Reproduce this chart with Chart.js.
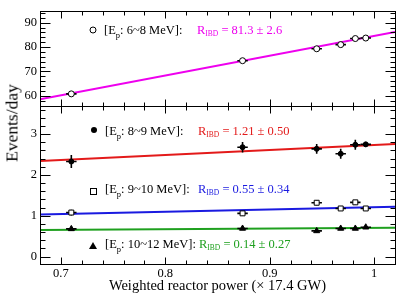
<!DOCTYPE html>
<html>
<head>
<meta charset="utf-8">
<script src="https://cdn.jsdelivr.net/npm/chart.js@4.4.1/dist/chart.umd.min.js"></script>
<style>
body { margin: 0; background: #fff; }
#wrap { position: relative; width: 415px; height: 300px; }
.note { position: absolute; font-family: "Liberation Serif", "Times New Roman", serif; white-space: nowrap; line-height: 1; color: #000; }
.lbl { font-size: 12.5px; }
.lbl sub { font-size: 8.5px; vertical-align: -4px; }
.rate { font-size: 12.5px; }
.rate sub { font-size: 7.5px; vertical-align: -2px; }
#ytitle { position: absolute; left: 12px; top: 123px; transform: translate(-50%, -50%) rotate(-90deg); font-family: "Liberation Serif", serif; font-size: 17.5px; white-space: nowrap; }
</style>
</head>
<body>
<div id="wrap">
  <canvas id="rateChart" width="415" height="300"></canvas>
  <div id="ytitle">Events/day</div>
  <div class="note lbl" style="left:104px;top:24px">[E<sub>p</sub>: 6~8 MeV]:</div>
  <div class="note rate" style="left:197px;top:24px;color:#ee00ee">R<sub>IBD</sub> = 81.3 ± 2.6</div>
  <div class="note lbl" style="left:105px;top:125px">[E<sub>p</sub>: 8~9 MeV]:</div>
  <div class="note rate" style="left:198px;top:125px;color:#e31a1a">R<sub>IBD</sub> = 1.21 ± 0.50</div>
  <div class="note lbl" style="left:105px;top:183px">[E<sub>p</sub>: 9~10 MeV]:</div>
  <div class="note rate" style="left:198px;top:183px;color:#1a1ae0">R<sub>IBD</sub> = 0.55 ± 0.34</div>
  <div class="note lbl" style="left:105px;top:238px">[E<sub>p</sub>: 10~12 MeV]:</div>
  <div class="note rate" style="left:199px;top:238px;color:#1fa01f">R<sub>IBD</sub> = 0.14 ± 0.27</div>
</div>
<script>
// weighted reactor power (x 17.4 GW) and its error
const power = [0.710, 0.874, 0.945, 0.968, 0.982, 0.992];
const powerErr = [0.005, 0.005, 0.005, 0.005, 0.005, 0.005];

// measured rates, events/day, per prompt energy window
const rate6to8 = [60.8, 74.4, 79.3, 81.0, 83.5, 83.7];
const err6to8 = [0.5, 0.5, 0.5, 0.5, 0.5, 0.5];
const rate8to9 = [2.33, 2.68, 2.64, 2.52, 2.74, 2.75];
const err8to9 = [0.16, 0.13, 0.12, 0.12, 0.12, 0.06];
const rate9to10 = [1.08, 1.06, 1.32, 1.18, 1.33, 1.18];
const err9to10 = [0.07, 0.06, 0.06, 0.06, 0.06, 0.04];
const rate10to12 = [0.68, 0.69, 0.63, 0.69, 0.69, 0.72];
const err10to12 = [0.05, 0.04, 0.04, 0.04, 0.04, 0.03];

// fitted lines, read at the ends of the power axis
const fitPower = [0.68, 1.02];
const fit6to8 = [58.6, 86.2];
const fit8to9 = [2.34, 2.76];
const fit9to10 = [1.03, 1.22];
const fit10to12 = [0.65, 0.71];

const serif = 'Liberation Serif';
const toPoints = (xs, ys) => xs.map((x, i) => ({ x, y: ys[i] }));

function pointSet(values, errs, axis, style, fill, radius) {
    return {
        data: toPoints(power, values),
        yAxisID: axis,
        showLine: false,
        pointStyle: style,
        pointRadius: radius,
        pointBackgroundColor: fill,
        pointBorderColor: '#000',
        pointBorderWidth: 1,
        errX: powerErr,
        errY: errs
    };
}

function fitSet(values, axis, color) {
    return {
        data: toPoints(fitPower, values),
        yAxisID: axis,
        showLine: true,
        borderColor: color,
        borderWidth: 2,
        pointRadius: 0
    };
}

// error bars drawn right before each marker set
const errorBars = {
    id: 'errorBars',
    beforeDatasetDraw(chart, args) {
        const ds = chart.data.datasets[args.index];
        if (!ds.errY) return;
        const ctx = chart.ctx;
        const xs = chart.scales.x, ys = chart.scales[ds.yAxisID];
        ctx.save();
        ctx.strokeStyle = '#000';
        ctx.lineWidth = 1.6;
        ds.data.forEach((p, i) => {
            const px = xs.getPixelForValue(p.x), py = ys.getPixelForValue(p.y);
            ctx.beginPath();
            ctx.moveTo(xs.getPixelForValue(p.x - ds.errX[i]), py);
            ctx.lineTo(xs.getPixelForValue(p.x + ds.errX[i]), py);
            ctx.moveTo(px, ys.getPixelForValue(p.y - ds.errY[i]));
            ctx.lineTo(px, ys.getPixelForValue(p.y + ds.errY[i]));
            ctx.stroke();
        });
        ctx.restore();
    }
};

// ROOT style frame with inward ticks on both panels
const frameTicks = {
    id: 'frameTicks',
    afterDraw(chart) {
        const ctx = chart.ctx, xs = chart.scales.x, area = chart.chartArea;
        const panels = [
            { id: 'yTop', minor: 2, every: 5 },
            { id: 'yLow', minor: 0.2, every: 5 }
        ];
        ctx.save();
        ctx.strokeStyle = '#000';
        ctx.lineWidth = 1;
        panels.forEach(pn => {
            const ys = chart.scales[pn.id];
            const top = Math.round(ys.top) + 0.5, bottom = Math.round(ys.bottom) + 0.5;
            const left = Math.round(area.left) + 0.5, right = Math.round(area.right) + 0.5;
            ctx.strokeRect(left, top, right - left, bottom - top);
            ctx.beginPath();
            for (let k = 34; k <= 51; k++) {
                const v = k * 0.02;
                const len = k % 5 === 0 ? 7 : 4;
                const px = Math.round(xs.getPixelForValue(v)) + 0.5;
                ctx.moveTo(px, top); ctx.lineTo(px, top + len);
                ctx.moveTo(px, bottom); ctx.lineTo(px, bottom - len);
            }
            const k0 = Math.ceil(ys.min / pn.minor - 1e-6), k1 = Math.floor(ys.max / pn.minor + 1e-6);
            for (let k = k0; k <= k1; k++) {
                const len = k % pn.every === 0 ? 10 : 5;
                const py = Math.round(ys.getPixelForValue(k * pn.minor)) + 0.5;
                ctx.moveTo(left, py); ctx.lineTo(left + len, py);
                ctx.moveTo(right, py); ctx.lineTo(right - len, py);
            }
            ctx.stroke();
        });
        ctx.restore();
    }
};

// legend markers beside the window labels
const legendMarks = {
    id: 'legendMarks',
    afterDraw(chart) {
        const ctx = chart.ctx;
        ctx.save();
        ctx.strokeStyle = '#000';
        ctx.fillStyle = '#000';
        ctx.lineWidth = 1;
        ctx.beginPath(); ctx.arc(93, 30, 3, 0, Math.PI * 2); ctx.stroke();
        ctx.beginPath(); ctx.arc(94, 130, 3, 0, Math.PI * 2); ctx.fill();
        ctx.strokeRect(90.5, 188.5, 6, 6);
        ctx.beginPath(); ctx.moveTo(93, 242); ctx.lineTo(97, 249); ctx.lineTo(89, 249); ctx.closePath(); ctx.fill();
        ctx.restore();
    }
};

const yAxis = (min, max, step, weight) => ({
    type: 'linear',
    position: 'left',
    stack: 'rate',
    stackWeight: weight,
    min, max,
    grid: { display: false, drawTicks: false },
    border: { display: false },
    ticks: {
        stepSize: step,
        includeBounds: false,
        padding: 3,
        color: '#000',
        font: { family: serif, size: 12.5 }
    },
    afterFit: s => { s.width = 40; }
});

new Chart(document.getElementById('rateChart'), {
    type: 'scatter',
    data: {
        datasets: [
            pointSet(rate6to8, err6to8, 'yTop', 'circle', '#fff', 3),
            pointSet(rate8to9, err8to9, 'yLow', 'circle', '#000', 2.5),
            pointSet(rate9to10, err9to10, 'yLow', 'rect', '#fff', 3.5),
            pointSet(rate10to12, err10to12, 'yLow', 'triangle', '#000', 3.5),
            fitSet(fit6to8, 'yTop', '#ee00ee'),
            fitSet(fit8to9, 'yLow', '#e31a1a'),
            fitSet(fit9to10, 'yLow', '#1a1ae0'),
            fitSet(fit10to12, 'yLow', '#1fa01f')
        ]
    },
    options: {
        responsive: false,
        animation: false,
        layout: { padding: { left: 0, right: 20, top: 8, bottom: 0 } },
        plugins: {
            legend: { display: false },
            tooltip: { enabled: false }
        },
        scales: {
            x: {
                type: 'linear',
                min: 0.68,
                max: 1.02,
                grid: { display: false, drawTicks: false },
                border: { display: false },
                ticks: {
                    stepSize: 0.1,
                    includeBounds: false,
                    padding: 2,
                    color: '#000',
                    font: { family: serif, size: 12.5 },
                    callback: v => String(+v.toFixed(2))
                },
                title: {
                    display: true,
                    text: 'Weighted reactor power (× 17.4 GW)',
                    color: '#000',
                    font: { family: serif, size: 14.5 },
                    padding: { top: 0, bottom: 5 }
                },
                afterFit: s => { s.height = 36; }
            },
            yLow: yAxis(-0.18, 3.7, 1, 160),
            yTop: yAxis(56, 95, 10, 96)
        }
    },
    plugins: [errorBars, frameTicks, legendMarks]
});
</script>
</body>
</html>
